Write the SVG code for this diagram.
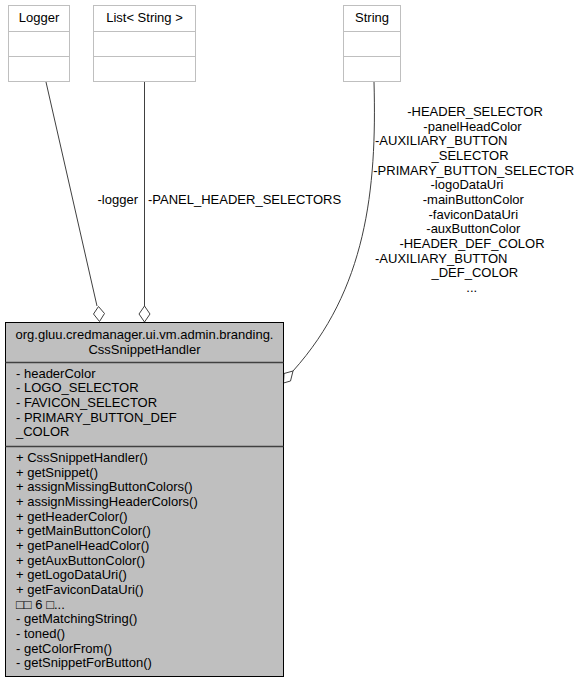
<svg xmlns="http://www.w3.org/2000/svg" width="577" height="683" viewBox="0 0 577 683">
<style>
text{font-family:"Liberation Sans",Arial,sans-serif;font-size:13px;fill:#000}
.c{text-anchor:middle}
.small rect{fill:#fff;stroke:#bfbfbf;stroke-width:1}
.small line{stroke:#bfbfbf;stroke-width:1}
.edge{fill:none;stroke:#404040;stroke-width:1}
.dia{fill:#fff;stroke:#404040;stroke-width:1}
</style>
<rect width="577" height="683" fill="#fff"/>
<g id="node-logger" class="small">
<rect x="8.5" y="5.5" width="61" height="76"/>
<line x1="8.5" y1="31.5" x2="69.5" y2="31.5"/>
<line x1="8.5" y1="56.5" x2="69.5" y2="56.5"/>
<text class="c" x="39" y="22">Logger</text>
</g>
<g id="node-list" class="small">
<rect x="93.5" y="5.5" width="102" height="76"/>
<line x1="93.5" y1="31.5" x2="195.5" y2="31.5"/>
<line x1="93.5" y1="56.5" x2="195.5" y2="56.5"/>
<text class="c" x="144.5" y="22">List&lt; String &gt;</text>
</g>
<g id="node-string" class="small">
<rect x="343.5" y="5.5" width="57" height="76"/>
<line x1="343.5" y1="31.5" x2="400.5" y2="31.5"/>
<line x1="343.5" y1="56.5" x2="400.5" y2="56.5"/>
<text class="c" x="372" y="22">String</text>
</g>
<g id="connectors">
<path class="edge" d="M46,82 L97,306"/>
<polygon class="dia" points="98.5,306.5 104.5,313.5 99.5,321.5 93.5,314"/>
<text x="138" y="204" style="text-anchor:end">-logger</text>
<path class="edge" d="M144.5,82 L144.5,306"/>
<polygon class="dia" points="144.5,306 150,314 144.5,322 139,314"/>
<text x="148" y="204">-PANEL_HEADER_SELECTORS</text>
<path class="edge" d="M374,82 C377,190 366,290 293,371"/>
<polygon class="dia" points="293,371 290.5,381 283.5,383 284,373.5"/>
<text class="c" x="475" y="116">-HEADER_SELECTOR</text>
<text class="c" x="472.5" y="130.7">-panelHeadColor</text>
<text x="375" y="145.3">-AUXILIARY_BUTTON</text>
<text x="431.5" y="160">_SELECTOR</text>
<text class="c" x="473.7" y="174.7">-PRIMARY_BUTTON_SELECTOR</text>
<text class="c" x="467" y="189.3">-logoDataUri</text>
<text class="c" x="473.3" y="204">-mainButtonColor</text>
<text class="c" x="473.3" y="218.7">-faviconDataUri</text>
<text class="c" x="473.3" y="233.3">-auxButtonColor</text>
<text class="c" x="472" y="248">-HEADER_DEF_COLOR</text>
<text x="375" y="262.7">-AUXILIARY_BUTTON</text>
<text x="431.5" y="277.3">_DEF_COLOR</text>
<text class="c" x="471.7" y="292">...</text>
</g>
<g id="node-main">
<rect x="5.5" y="322.5" width="278" height="354" fill="#bfbfbf" stroke="#000" stroke-width="1"/>
<line x1="5.5" y1="362.5" x2="283.5" y2="362.5" stroke="#404040" stroke-width="1.5"/>
<line x1="5.5" y1="446.5" x2="283.5" y2="446.5" stroke="#404040" stroke-width="1.5"/>
<text class="c" x="144.5" y="338.5">org.gluu.credmanager.ui.vm.admin.branding.</text>
<text class="c" x="144.5" y="353.5">CssSnippetHandler</text>
<text x="16" y="377.7">- headerColor</text>
<text x="16" y="392.4">- LOGO_SELECTOR</text>
<text x="16" y="407">- FAVICON_SELECTOR</text>
<text x="16" y="421.7">- PRIMARY_BUTTON_DEF</text>
<text x="16" y="436.4">_COLOR</text>
<text x="16" y="462">+ CssSnippetHandler()</text>
<text x="16" y="476.7">+ getSnippet()</text>
<text x="16" y="491.3">+ assignMissingButtonColors()</text>
<text x="16" y="506">+ assignMissingHeaderColors()</text>
<text x="16" y="520.7">+ getHeaderColor()</text>
<text x="16" y="535.3">+ getMainButtonColor()</text>
<text x="16" y="550">+ getPanelHeadColor()</text>
<text x="16" y="564.7">+ getAuxButtonColor()</text>
<text x="16" y="579.3">+ getLogoDataUri()</text>
<text x="16" y="594">+ getFaviconDataUri()</text>
<text x="16" y="608.7">□□ 6 □...</text>
<text x="16" y="623.3">- getMatchingString()</text>
<text x="16" y="638">- toned()</text>
<text x="16" y="652.7">- getColorFrom()</text>
<text x="16" y="667.3">- getSnippetForButton()</text>
</g>
</svg>
